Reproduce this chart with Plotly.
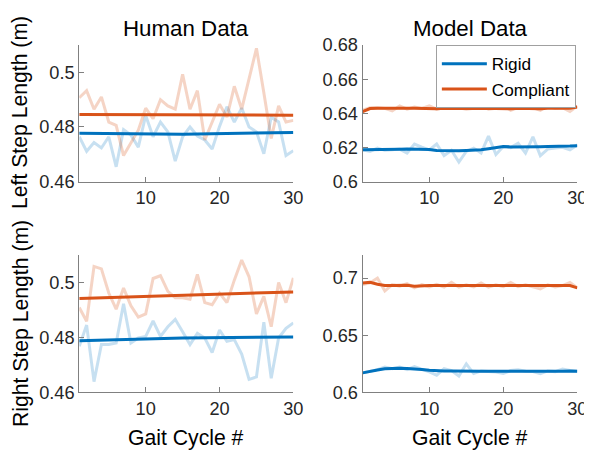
import plotly.graph_objects as go

cycles = list(range(1, 31))

# Human data - left step length (m)
human_left_rigid = [0.4764, 0.4711, 0.4743, 0.4723, 0.4764, 0.4654, 0.4790, 0.4770, 0.4726, 0.4842,
                    0.4764, 0.4818, 0.4782, 0.4675, 0.4764, 0.4800, 0.4767, 0.4752, 0.4719, 0.4802,
                    0.4874, 0.4818, 0.4869, 0.4800, 0.4782, 0.4702, 0.4836, 0.4818, 0.4695, 0.4713]
human_left_compliant = [0.4907, 0.4933, 0.4865, 0.4910, 0.4818, 0.4806, 0.4695, 0.4740, 0.4788, 0.4869,
                        0.4830, 0.4900, 0.4877, 0.4865, 0.4993, 0.4865, 0.4933, 0.4752, 0.4818, 0.4883,
                        0.4836, 0.4949, 0.4865, 0.4975, 0.5088, 0.4925, 0.4758, 0.4877, 0.4818, 0.4824]
human_left_rigid_fit_x = [1, 15, 30]
human_left_rigid_fit = [0.4777, 0.4773, 0.4780]
human_left_compliant_fit_x = [1, 30]
human_left_compliant_fit = [0.4846, 0.4843]

# Human data - right step length (m)
human_right_rigid = [0.4768, 0.4845, 0.4639, 0.4774, 0.4774, 0.4780, 0.4923, 0.4780, 0.4798, 0.4804,
                     0.4860, 0.4804, 0.4839, 0.4866, 0.4821, 0.4774, 0.4815, 0.4798, 0.4745, 0.4827,
                     0.4786, 0.4792, 0.4739, 0.4647, 0.4656, 0.4856, 0.4651, 0.4798, 0.4833, 0.4853]
human_right_compliant = [0.4909, 0.4859, 0.5059, 0.5050, 0.4962, 0.4903, 0.4980, 0.4915, 0.4874, 0.4886,
                         0.5015, 0.5025, 0.4968, 0.4945, 0.4945, 0.4939, 0.5030, 0.4927, 0.4919, 0.4962,
                         0.4927, 0.5009, 0.5082, 0.5021, 0.4886, 0.4950, 0.4839, 0.5000, 0.4927, 0.5017]
human_right_rigid_fit_x = [1, 15, 30]
human_right_rigid_fit = [0.4788, 0.4798, 0.4802]
human_right_compliant_fit_x = [1, 30]
human_right_compliant_fit = [0.4942, 0.4966]

# Model data - left step length (m)
model_left_rigid = [0.6186, 0.6177, 0.6196, 0.6183, 0.6186, 0.6190, 0.6167, 0.6220, 0.6201, 0.6186,
                    0.6220, 0.6152, 0.6183, 0.6114, 0.6177, 0.6196, 0.6167, 0.6266, 0.6158, 0.6205,
                    0.6199, 0.6224, 0.6167, 0.6262, 0.6152, 0.6190, 0.6196, 0.6201, 0.6186, 0.6215]
model_left_compliant = [0.6418, 0.6433, 0.6433, 0.6429, 0.6414, 0.6443, 0.6424, 0.6437, 0.6429, 0.6443,
                        0.6424, 0.6433, 0.6428, 0.6433, 0.6424, 0.6429, 0.6443, 0.6424, 0.6429, 0.6446,
                        0.6418, 0.6433, 0.6429, 0.6433, 0.6418, 0.6443, 0.6429, 0.6433, 0.6410, 0.6443]
model_left_rigid_smooth = [0.6186, 0.6186, 0.6187, 0.6188, 0.6189, 0.6190, 0.6191, 0.6190, 0.6190, 0.6188,
                           0.6182, 0.6180, 0.6179, 0.6180, 0.6182, 0.6182, 0.6186, 0.6192, 0.6198, 0.6205,
                           0.6203, 0.6203, 0.6200, 0.6203, 0.6204, 0.6205, 0.6205, 0.6206, 0.6208, 0.6210]
model_left_compliant_smooth = [0.6410, 0.6428, 0.6429, 0.6428, 0.6427, 0.6430, 0.6429, 0.6430, 0.6428, 0.6429,
                               0.6427, 0.6429, 0.6428, 0.6428, 0.6427, 0.6428, 0.6429, 0.6428, 0.6427, 0.6430,
                               0.6427, 0.6429, 0.6428, 0.6429, 0.6426, 0.6430, 0.6428, 0.6429, 0.6429, 0.6437]

# Model data - right step length (m)
model_right_rigid = [0.6170, 0.6185, 0.6198, 0.6221, 0.6207, 0.6221, 0.6198, 0.6224, 0.6204, 0.6178,
                     0.6150, 0.6207, 0.6190, 0.6142, 0.6249, 0.6164, 0.6187, 0.6181, 0.6178, 0.6164,
                     0.6190, 0.6198, 0.6184, 0.6181, 0.6164, 0.6187, 0.6181, 0.6204, 0.6190, 0.6184]
model_right_compliant = [0.6942, 0.6957, 0.7000, 0.6886, 0.6942, 0.6928, 0.6951, 0.6914, 0.6942, 0.6922,
                         0.6945, 0.6920, 0.6962, 0.6920, 0.6940, 0.6922, 0.6957, 0.6920, 0.6940, 0.6925,
                         0.6962, 0.6925, 0.6940, 0.6925, 0.6905, 0.6940, 0.6922, 0.6934, 0.6962, 0.6914]
model_right_rigid_smooth = [0.6170, 0.6185, 0.6195, 0.6205, 0.6210, 0.6210, 0.6208, 0.6206, 0.6200, 0.6192,
                            0.6187, 0.6186, 0.6186, 0.6184, 0.6184, 0.6184, 0.6184, 0.6184, 0.6184, 0.6183,
                            0.6180, 0.6180, 0.6180, 0.6180, 0.6181, 0.6182, 0.6183, 0.6184, 0.6187, 0.6184]
model_right_compliant_smooth = [0.6957, 0.6962, 0.6945, 0.6934, 0.6934, 0.6934, 0.6936, 0.6928, 0.6934, 0.6934,
                                0.6934, 0.6934, 0.6936, 0.6934, 0.6934, 0.6934, 0.6936, 0.6934, 0.6934, 0.6934,
                                0.6936, 0.6934, 0.6934, 0.6931, 0.6931, 0.6934, 0.6934, 0.6934, 0.6934, 0.6914]

BLUE = "#0072BD"
ORANGE = "#D95319"
LBLUE = "rgba(0,114,189,0.22)"
LORANGE = "rgba(217,83,25,0.25)"
FONT = "Liberation Sans, Arial, sans-serif"
TXT = "#262626"
AX = "#808080"

fig = go.Figure()

def add(xa, ya, x, y, color, width, name=None, legend=False):
    fig.add_trace(go.Scatter(x=x, y=y, mode="lines", line=dict(color=color, width=width),
                             xaxis=xa, yaxis=ya, name=name, showlegend=legend, hoverinfo="skip"))

# top-left: human left
add("x", "y", cycles, human_left_rigid, LBLUE, 3)
add("x", "y", cycles, human_left_compliant, LORANGE, 3)
add("x", "y", human_left_rigid_fit_x, human_left_rigid_fit, BLUE, 3)
add("x", "y", human_left_compliant_fit_x, human_left_compliant_fit, ORANGE, 3)
# top-right: model left
add("x2", "y2", cycles, model_left_rigid, LBLUE, 3)
add("x2", "y2", cycles, model_left_compliant, LORANGE, 3)
add("x2", "y2", cycles, model_left_rigid_smooth, BLUE, 3, "Rigid", True)
add("x2", "y2", cycles, model_left_compliant_smooth, ORANGE, 3, "Compliant", True)
# bottom-left: human right
add("x3", "y3", cycles, human_right_rigid, LBLUE, 3)
add("x3", "y3", cycles, human_right_compliant, LORANGE, 3)
add("x3", "y3", human_right_rigid_fit_x, human_right_rigid_fit, BLUE, 3)
add("x3", "y3", human_right_compliant_fit_x, human_right_compliant_fit, ORANGE, 3)
# bottom-right: model right
add("x4", "y4", cycles, model_right_rigid, LBLUE, 3)
add("x4", "y4", cycles, model_right_compliant, LORANGE, 3)
add("x4", "y4", cycles, model_right_rigid_smooth, BLUE, 3)
add("x4", "y4", cycles, model_right_compliant_smooth, ORANGE, 3)

W, H = 592, 451
OFF = 8  # page body margin
SX = (W + OFF) / W  # page is captured slightly scaled down
SY = (H + OFF) / H

def px(s):
    return (s * SX - OFF) / W

def py(s):
    return 1 - (s * SY - OFF) / H

xl = [px(79.4), px(294.3)]
xr = [px(363.8), px(579.3)]
yt = [py(176.0), py(35.7)]
yb = [py(392.7), py(251.7)]

TF = 18.2
common_x = dict(range=[1, 30], tickvals=[10, 20, 30], ticks="inside", ticklen=5, tickcolor=AX,
                showline=True, linecolor=AX, linewidth=1, showgrid=False, zeroline=False,
                tickfont=dict(family=FONT, size=TF, color=TXT))
common_y = dict(ticks="inside", ticklen=5, tickcolor=AX, showline=True, linecolor=AX, linewidth=1,
                showgrid=False, zeroline=False, tickfont=dict(family=FONT, size=TF, color=TXT))

fig.update_layout(
    width=W, height=H, margin=dict(l=0, r=0, t=0, b=0),
    paper_bgcolor="white", plot_bgcolor="white",
    xaxis=dict(domain=xl, anchor="y", **common_x),
    yaxis=dict(domain=yt, anchor="x", range=[0.46, 0.51], tickvals=[0.46, 0.48, 0.5],
               ticktext=["0.46", "0.48", "0.5"], **common_y),
    xaxis2=dict(domain=xr, anchor="y2", **common_x),
    yaxis2=dict(domain=yt, anchor="x2", range=[0.6, 0.68], tickvals=[0.6, 0.62, 0.64, 0.66, 0.68],
                ticktext=["0.6", "0.62", "0.64", "0.66", "0.68"], **common_y),
    xaxis3=dict(domain=xl, anchor="y3", **common_x),
    yaxis3=dict(domain=yb, anchor="x3", range=[0.46, 0.51], tickvals=[0.46, 0.48, 0.5],
                ticktext=["0.46", "0.48", "0.5"], **common_y),
    xaxis4=dict(domain=xr, anchor="y4", **common_x),
    yaxis4=dict(domain=yb, anchor="x4", range=[0.6, 0.72], tickvals=[0.6, 0.65, 0.7],
                ticktext=["0.6", "0.65", "0.7"], **common_y),
    legend=dict(x=px(437.3), y=py(35.7), xanchor="left", yanchor="top",
                bgcolor="white", bordercolor="#a0a0a0", borderwidth=1,
                font=dict(family=FONT, size=17.2, color="black"), tracegroupgap=0,
                itemwidth=45),
    showlegend=True,
)

def ann(text, x, y, size, angle=0):
    fig.add_annotation(text=text, x=px(x), y=py(y), xref="paper", yref="paper",
                       showarrow=False, textangle=angle, xanchor="center", yanchor="middle",
                       font=dict(family=FONT, size=size, color="black"))

ann("Human Data", 187, 19, 22.3)
ann("Model Data", 472, 19, 22.3)
ann("Left Step Length (m)", 20.5, 105, 21.2, -90)
ann("Right Step Length (m)", 20.5, 322, 21.2, -90)
ann("Gait Cycle #", 187, 440, 21.2)
ann("Gait Cycle #", 472, 440, 21.2)

fig.write_html("out.html")
